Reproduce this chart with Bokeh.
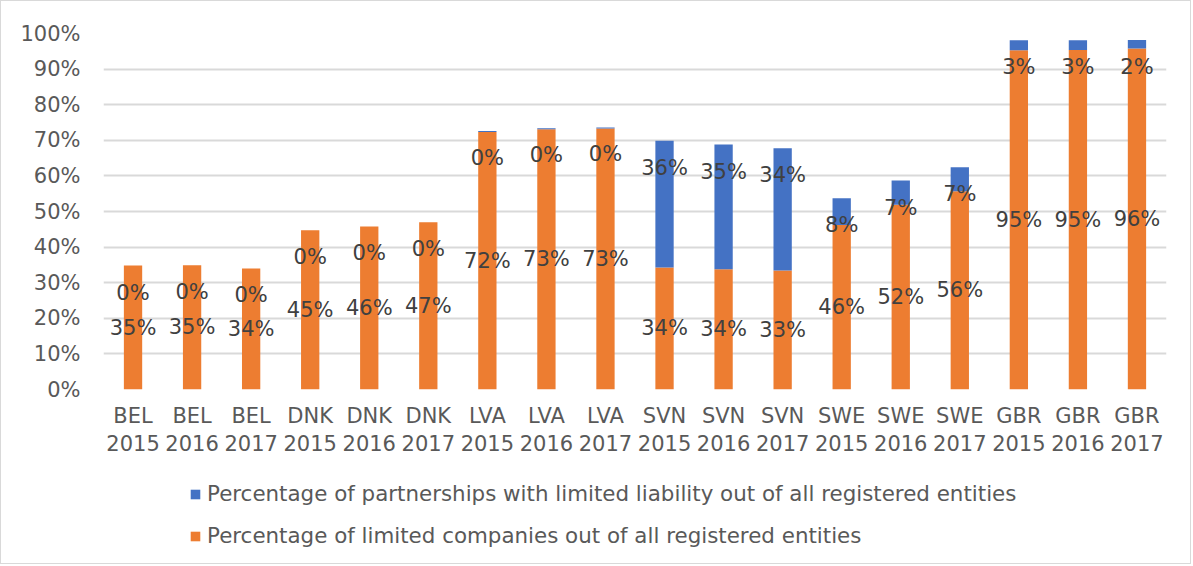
from bokeh.plotting import figure
from bokeh.layouts import column
from bokeh.models import (ColumnDataSource, FactorRange, Range1d, Legend, LegendItem,
                          NumeralTickFormatter, FixedTicker)
from bokeh.core.properties import value
from bokeh.embed import file_html
from bokeh.resources import INLINE

countries = ["BEL", "BEL", "BEL", "DNK", "DNK", "DNK", "LVA", "LVA", "LVA",
             "SVN", "SVN", "SVN", "SWE", "SWE", "SWE", "GBR", "GBR", "GBR"]
years = ["2015", "2016", "2017"] * 6
limited_companies = [0.348, 0.349, 0.340, 0.447, 0.458, 0.470, 0.723, 0.731, 0.733,
                     0.343, 0.338, 0.334, 0.462, 0.519, 0.557, 0.953, 0.954, 0.958]
partnerships = [0.0, 0.0, 0.0, 0.0, 0.0, 0.0, 0.003, 0.003, 0.003,
                0.356, 0.350, 0.344, 0.075, 0.068, 0.067, 0.028, 0.027, 0.024]
y_ticks = [0, 0.1, 0.2, 0.3, 0.4, 0.5, 0.6, 0.7, 0.8, 0.9, 1.0]
series_names = ["Percentage of partnerships with limited liability out of all registered entities",
                "Percentage of limited companies out of all registered entities"]

ORANGE = "#ED7D31"
BLUE = "#4472C4"
FONT = "DejaVu Sans"

cats = [f"{c}\n{y}" for c, y in zip(countries, years)]
totals = [a + b for a, b in zip(limited_companies, partnerships)]
src = ColumnDataSource(dict(
    cat=cats,
    lc=limited_companies,
    pt=partnerships,
    lc_mid=[v / 2 for v in limited_companies],
    total=totals,
    lc_lab=[f"{round(v * 100):.0f}%" for v in limited_companies],
    pt_lab=[f"{round(v * 100):.0f}%" for v in partnerships],
))

p = figure(x_range=FactorRange(*cats, range_padding=0), y_range=Range1d(0, 1.0),
           width=1189, height=468, output_backend="svg", toolbar_location=None,
           min_border_left=102, min_border_right=24, min_border_top=32, min_border_bottom=80)

p.vbar(x="cat", top="lc", bottom=0, width=0.31, fill_color=ORANGE, line_color=None, source=src)
p.vbar(x="cat", top="total", bottom="lc", width=0.31, fill_color=BLUE, line_color=None, source=src)

p.text(x="cat", y="lc_mid", text="lc_lab", source=src, text_align="center",
       text_baseline="middle", text_font=value(FONT), text_font_size="21px",
       text_color="#404040")
p.text(x="cat", y="total", text="pt_lab", source=src, text_align="center",
       text_baseline="middle", y_offset=27, text_font=value(FONT), text_font_size="21px",
       text_color="#404040")

p.outline_line_color = None
p.xgrid.grid_line_color = None
p.ygrid.grid_line_color = "#d9d9d9"
p.ygrid.grid_line_width = 2
p.yaxis.ticker = FixedTicker(ticks=y_ticks)
p.yaxis.formatter = NumeralTickFormatter(format="0%")
for ax in (p.xaxis, p.yaxis):
    ax.axis_line_color = None
    ax.major_tick_line_color = None
    ax.minor_tick_line_color = None
    ax.major_label_text_font = FONT
    ax.major_label_text_font_size = "21px"
    ax.major_label_text_color = "#595959"
p.yaxis.major_label_standoff = 17
p.xaxis.major_label_standoff = 8

# legend panel
lg = figure(width=1189, height=94, x_range=Range1d(0, 1), y_range=Range1d(0, 1),
            x_axis_type=None, y_axis_type=None, output_backend="svg",
            toolbar_location=None, min_border=0)
lg.outline_line_color = None
proxy = ColumnDataSource(dict(x=[-1], top=[-1]))
d_pt = lg.vbar(x="x", top="top", width=0.3, fill_color=BLUE, line_color=None, source=proxy)
d_lc = lg.vbar(x="x", top="top", width=0.3, fill_color=ORANGE, line_color=None, source=proxy)
legend = Legend(items=[
    LegendItem(label=series_names[0], renderers=[d_pt]),
    LegendItem(label=series_names[1], renderers=[d_lc]),
], location=(86, 15), orientation="vertical", border_line_color=None,
    background_fill_alpha=0, padding=0, margin=0, spacing=17,
    glyph_width=12, glyph_height=12, label_height=21, label_standoff=6,
    label_text_font=FONT, label_text_font_size="21.4px", label_text_color="#595959")
lg.add_layout(legend, "center")

layout = column(p, lg, spacing=0, styles={"border": "1px solid #d9d9d9"})

open("out.html", "w").write(file_html(layout, INLINE))
